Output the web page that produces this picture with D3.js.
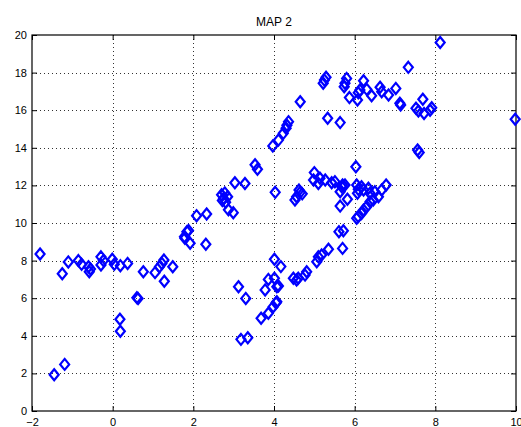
<!DOCTYPE html>
<meta charset="utf-8">
<style>

body {
  margin: 0;
  background-color: white;
  overflow: hidden;
}

text {
  font-family: "Liberation Sans", Arial, sans-serif;
  font-size: 11px;
  fill: black;
}

.grid line {
  stroke: #333;
  stroke-dasharray: 1,3;
  shape-rendering: crispEdges;
}

.mark {
  fill: none;
  stroke: #0000ff;
  stroke-width: 2.2;
}

</style>
<body>

<script src="https://d3js.org/d3.v7.min.js"></script>
<script>

var title = "MAP 2";

var xTicks = [-2, 0, 2, 4, 6, 8, 10],
    yTicks = [0, 2, 4, 6, 8, 10, 12, 14, 16, 18, 20];

// one entry per diamond
var xVals = [
  -1.80, -1.45, -1.19, -1.25, -1.10, -0.85, -0.77, -0.60, -0.58, -0.55,
  -0.29, -0.23, -0.29, -0.01, 0.04, 0.19, 0.37, 0.18, 0.19, 0.60,
  0.63, 0.76, 1.05, 1.16, 1.22, 1.27, 1.28, 1.49, 1.78, 1.88,
  1.92, 1.84, 1.79, 2.08, 2.33, 2.31, 2.70, 2.75, 2.80, 2.85,
  2.78, 2.72, 2.87, 2.99, 3.03, 3.28, 3.53, 3.59, 3.12, 3.30,
  3.18, 3.35, 3.68, 3.86, 3.98, 4.05, 4.07, 3.78, 3.86, 4.01,
  4.07, 4.11, 4.01, 4.17, 4.03, 3.97, 4.11, 4.23, 4.30, 4.32,
  4.36, 4.48, 4.56, 4.60, 4.77, 4.81, 5.06, 5.10, 5.18, 5.35,
  5.61, 5.70, 5.72, 4.52, 4.56, 4.62, 4.65, 4.70, 4.65, 5.00,
  4.98, 5.14, 5.10, 5.27, 5.43, 5.51, 5.70, 5.64, 5.76, 5.68,
  5.82, 5.64, 6.03, 6.05, 6.09, 6.07, 6.17, 6.22, 6.34, 6.38,
  6.50, 6.59, 6.67, 6.78, 6.30, 6.22, 6.09, 6.05, 6.17, 6.38,
  6.46, 5.25, 5.29, 5.22, 5.80, 5.76, 5.74, 5.33, 5.64, 6.22,
  6.13, 6.30, 6.09, 5.87, 6.07, 6.42, 6.63, 6.67, 6.84, 7.02,
  7.14, 7.12, 7.33, 7.52, 7.69, 7.58, 7.72, 7.91, 7.87, 7.56,
  7.60, 8.12, 9.98
];

var yVals = [
  8.35, 1.93, 2.48, 7.30, 7.93, 8.00, 7.80, 7.67, 7.41, 7.55,
  8.20, 8.00, 7.77, 8.07, 7.80, 7.73, 7.85, 4.88, 4.24, 6.03,
  5.98, 7.41, 7.36, 7.67, 7.85, 8.03, 6.90, 7.67, 9.27, 9.60,
  8.92, 9.54, 9.19, 10.39, 10.48, 8.87, 11.50, 11.30, 11.10, 11.40,
  11.60, 11.20, 10.70, 10.55, 12.14, 12.10, 13.10, 12.86, 6.61, 5.99,
  3.81, 3.90, 4.93, 5.20, 5.55, 5.75, 5.81, 6.44, 7.00, 7.06,
  6.61, 6.65, 8.07, 7.68, 11.63, 14.10, 14.41, 14.77, 15.04, 15.20,
  15.39, 7.06, 6.97, 7.06, 7.23, 7.41, 7.94, 8.20, 8.30, 8.60,
  9.54, 8.65, 9.59, 11.22, 11.40, 11.75, 11.63, 11.55, 16.45, 12.68,
  12.29, 12.38, 12.10, 12.29, 12.14, 12.20, 12.02, 11.66, 12.02, 11.93,
  11.26, 10.90, 12.99, 12.02, 11.79, 11.58, 11.93, 11.76, 11.85, 11.58,
  11.66, 11.40, 11.76, 12.02, 10.87, 10.69, 10.34, 10.25, 10.51, 11.13,
  11.22, 17.60, 17.75, 17.43, 17.69, 17.43, 17.25, 15.57, 15.34, 17.57,
  17.07, 17.11, 16.93, 16.67, 16.54, 16.77, 17.22, 16.98, 16.81, 17.16,
  16.28, 16.37, 18.28, 16.10, 16.58, 15.96, 15.83, 16.13, 16.00, 13.88,
  13.75, 19.60, 15.52
];

var width = 521,
    height = 427,
    margin = {top: 35, right: 5, bottom: 16, left: 32};

var x = d3.scaleLinear()
    .domain([-2, 10])
    .range([margin.left, width - margin.right]);

var y = d3.scaleLinear()
    .domain([0, 20])
    .range([height - margin.bottom, margin.top]);

var svg = d3.select("body").append("svg")
    .attr("width", width)
    .attr("height", height);

// dotted grid
var grid = svg.append("g")
    .attr("class", "grid");

grid.selectAll("line.v")
    .data(xTicks.slice(1, -1))
  .enter().append("line")
    .attr("class", "v")
    .attr("x1", function(d) { return Math.round(x(d)) + 0.5; })
    .attr("x2", function(d) { return Math.round(x(d)) + 0.5; })
    .attr("y1", y(20))
    .attr("y2", y(0));

grid.selectAll("line.h")
    .data(yTicks.slice(1, -1))
  .enter().append("line")
    .attr("class", "h")
    .attr("y1", function(d) { return Math.round(y(d)) + 0.5; })
    .attr("y2", function(d) { return Math.round(y(d)) + 0.5; })
    .attr("x1", x(-2))
    .attr("x2", x(10));

// axes, ticks pointing inward on all four sides
var fmt = function(d) { return String(d).replace("-", "\u2212"); };

svg.append("g")
    .attr("transform", "translate(0," + y(0) + ")")
    .call(d3.axisBottom(x).tickValues(xTicks).tickSize(-5).tickPadding(7).tickFormat(fmt));

svg.append("g")
    .attr("transform", "translate(" + x(-2) + ",0)")
    .call(d3.axisLeft(y).tickValues(yTicks).tickSize(-5).tickPadding(5).tickFormat(fmt));

svg.append("g")
    .attr("transform", "translate(0," + y(20) + ")")
    .call(d3.axisTop(x).tickValues(xTicks).tickSize(-5).tickFormat(""));

svg.append("g")
    .attr("transform", "translate(" + x(10) + ",0)")
    .call(d3.axisRight(y).tickValues(yTicks).tickSize(-5).tickFormat(""));

svg.selectAll(".domain").remove();
svg.selectAll(".tick line").attr("stroke", "black");
svg.selectAll(".tick text")
    .attr("font-family", "Liberation Sans, Arial, sans-serif")
    .attr("font-size", 11);

svg.append("rect")
    .attr("x", x(-2))
    .attr("y", y(20))
    .attr("width", x(10) - x(-2))
    .attr("height", y(0) - y(20))
    .attr("fill", "none")
    .attr("stroke", "black")
    .attr("stroke-width", 1.2);

// diamonds
var pts = d3.zip(xVals, yVals);

svg.append("g")
  .selectAll("path")
    .data(pts)
  .enter().append("path")
    .attr("class", "mark")
    .attr("d", function(d) {
      var cx = x(d[0]), cy = y(d[1]);
      return "M" + cx + "," + (cy - 5.5) + "L" + (cx + 4.5) + "," + cy +
             "L" + cx + "," + (cy + 5.5) + "L" + (cx - 4.5) + "," + cy + "Z";
    });

svg.append("text")
    .attr("x", (x(-2) + x(10)) / 2)
    .attr("y", 26)
    .attr("text-anchor", "middle")
    .style("font-size", "12px")
    .text(title);

</script>
